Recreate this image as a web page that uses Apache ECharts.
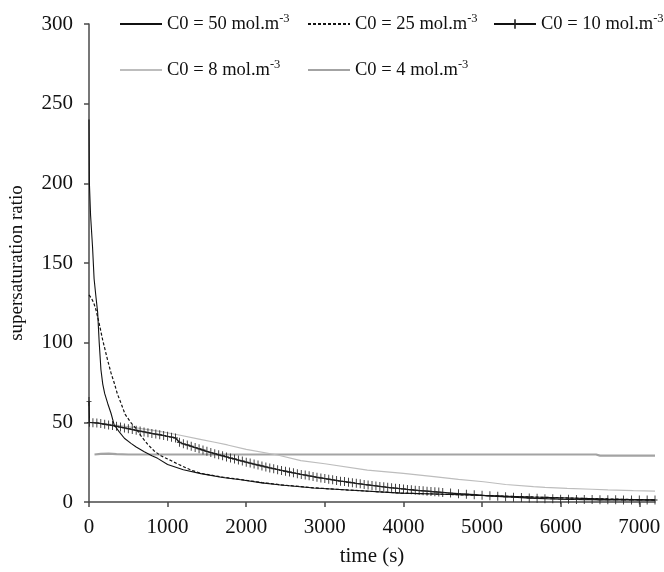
<!DOCTYPE html>
<html>
<head>
<meta charset="utf-8">
<script src="https://cdn.jsdelivr.net/npm/echarts@6/dist/echarts.min.js"></script>
<style>
  html, body { margin: 0; padding: 0; background: #fff; }
  #chart { width: 664px; height: 572px; }
</style>
</head>
<body>
<div id="chart"></div>
<script>
// Supersaturation ratio vs time for several initial concentrations C0

// Axis ticks
var xTicks = [0, 1000, 2000, 3000, 4000, 5000, 6000, 7000];
var yTicks = [0, 50, 100, 150, 200, 250, 300];

// Legend labels (base text + superscript)
var seriesNames = ['C0 = 50 mol.m', 'C0 = 25 mol.m', 'C0 = 10 mol.m', 'C0 = 8 mol.m', 'C0 = 4 mol.m'];
var unitExponent = '-3';

// C0 = 50 mol.m-3
var c50Time = [0, 5, 20, 45, 65, 90, 110, 130, 152, 175, 200, 237, 280, 321, 385, 450, 534, 600, 703, 800, 873, 1000, 1200, 1423, 1700, 1931, 2200, 2440, 2860, 3300, 3964, 4400, 4815, 5200, 5654, 6100, 6600, 7141, 7200];
var c50Value = [240, 200, 180, 160, 140, 128, 119, 100, 83, 74, 68, 62, 55.7, 48.3, 44, 40, 36.8, 34.5, 31.6, 29, 27.4, 23.5, 20.2, 17.8, 15.4, 14, 12, 10.7, 8.8, 7.5, 5.6, 5, 4.4, 3.8, 3.1, 2.5, 1.8, 1.3, 1.2];

// C0 = 25 mol.m-3
var c25Time = [0, 30, 60, 89, 130, 174, 237, 280, 321, 360, 407, 460, 530, 600, 661, 750, 830, 915, 1000, 1042, 1144, 1300, 1423, 1700, 1931, 2200, 2440, 2860, 3300, 3964, 4400, 4815, 5200, 5654, 6100, 6600, 7200];
var c25Value = [130, 128, 125, 120.5, 112, 101.7, 89, 81, 74.7, 68, 62, 55, 50, 46, 41.5, 36, 32, 29, 27, 26, 23.5, 20, 18, 15.6, 14.1, 12.2, 10.8, 8.9, 7.5, 5.6, 5, 4.4, 3.8, 3.1, 2.5, 1.9, 1.3];

// C0 = 10 mol.m-3
var c10Time = [0, 5, 50, 100, 150, 200, 250, 300, 350, 400, 450, 500, 550, 600, 650, 700, 750, 800, 850, 900, 950, 1000, 1050, 1100, 1150, 1200, 1250, 1300, 1350, 1400, 1450, 1500, 1550, 1600, 1650, 1700, 1750, 1800, 1850, 1900, 1950, 2000, 2050, 2100, 2150, 2200, 2250, 2300, 2350, 2400, 2450, 2500, 2550, 2600, 2650, 2700, 2750, 2800, 2850, 2900, 2950, 3000, 3050, 3100, 3150, 3200, 3250, 3300, 3350, 3400, 3450, 3500, 3550, 3600, 3650, 3700, 3750, 3800, 3850, 3900, 3950, 4000, 4050, 4100, 4150, 4200, 4250, 4300, 4350, 4400, 4450, 4500, 4600, 4700, 4800, 4900, 5000, 5100, 5200, 5300, 5400, 5500, 5600, 5700, 5800, 5900, 6000, 6100, 6200, 6300, 6400, 6500, 6600, 6700, 6800, 6900, 7000, 7100, 7200];
var c10Value = [63, 50, 49.8, 49.6, 49.2, 48.8, 48.4, 48, 47.5, 47, 46.5, 46, 45.5, 45, 44.5, 44, 43.5, 43, 42.6, 42.2, 41.7, 41.2, 40.7, 40.2, 37.5, 36.5, 35.8, 35, 34.2, 33.4, 32.6, 31.8, 31, 30.3, 29.6, 29, 28.3, 27.6, 27, 26.3, 25.7, 25, 24.4, 23.8, 23.2, 22.6, 22, 21.4, 20.9, 20.3, 19.8, 19.3, 18.8, 18.3, 17.8, 17.3, 16.9, 16.4, 16, 15.5, 15.1, 14.7, 14.3, 13.9, 13.5, 13.1, 12.8, 12.4, 12.1, 11.7, 11.4, 11, 10.7, 10.4, 10.1, 9.8, 9.5, 9.2, 8.9, 8.7, 8.4, 8.2, 7.9, 7.7, 7.4, 7.2, 7, 6.8, 6.6, 6.4, 6.2, 6, 5.6, 5.2, 4.9, 4.6, 4.2, 3.9, 3.6, 3.3, 3, 2.8, 2.5, 2.3, 2.1, 2, 1.8, 1.7, 1.6, 1.5, 1.5, 1.4, 1.4, 1.4, 1.3, 1.3, 1.3, 1.3, 1.3];

// C0 = 8 mol.m-3
var c8Time = [0, 300, 600, 900, 1130, 1400, 1600, 1762, 2000, 2398, 2694, 3000, 3541, 4000, 4388, 4700, 5020, 5300, 5654, 5800, 6082, 6400, 6600, 6925, 7200];
var c8Value = [50, 48.6, 46.5, 44.3, 42.2, 39.5, 37.5, 35.8, 33, 29.5, 26, 24, 20, 18, 15.9, 14.2, 12.7, 11, 9.6, 9.2, 8.6, 8, 7.6, 7.1, 6.8];

// C0 = 4 mol.m-3
var c4Time = [70, 150, 250, 350, 500, 1500, 3000, 4500, 6450, 6500, 7200];
var c4Value = [29.8, 30.2, 30.4, 30, 29.8, 29.8, 29.8, 29.8, 29.8, 29.1, 29.1];

function pairs(t, v) {
  return t.map(function (x, i) { return [x, v[i]]; });
}

var serif = 'Liberation Serif';
var axisColor = '#4a4a4a';
var plusSymbol = 'path://M-0.1,-1H0.1V-0.1H0.6V0.1H0.1V1H-0.1V0.1H-0.6V-0.1H-0.1Z';

function legendFor(name, left, top, showMarker) {
  return {
    data: [name],
    left: left,
    top: top,
    itemWidth: 42,
    itemHeight: 12,
    itemGap: 0,
    padding: [5, 0, 5, 5],
    selectedMode: false,
    itemStyle: showMarker ? {} : { opacity: 0 },
    formatter: function (n) { return '{b|' + n + '}{s|' + unitExponent + '}'; },
    textStyle: {
      fontFamily: serif,
      color: '#111',
      rich: {
        b: { fontFamily: serif, fontSize: 18.5, color: '#111', lineHeight: 24 },
        s: { fontFamily: serif, fontSize: 12.5, color: '#111', verticalAlign: 'top', lineHeight: 14, padding: [0, 0, 10, 0] }
      }
    }
  };
}

var chart = echarts.init(document.getElementById('chart'), null, { renderer: 'canvas' });

chart.setOption({
  backgroundColor: '#ffffff',
  animation: false,
  grid: { left: 88, right: 9, top: 24, bottom: 70, containLabel: false },
  legend: [
    legendFor(seriesNames[0], 114, 7, false),
    legendFor(seriesNames[1], 302, 7, false),
    legendFor(seriesNames[2], 488, 7, true),
    legendFor(seriesNames[3], 114, 53, false),
    legendFor(seriesNames[4], 302, 53, false)
  ],
  xAxis: {
    type: 'value',
    min: 0,
    max: 7200,
    interval: 1000,
    name: 'time (s)',
    nameLocation: 'middle',
    nameGap: 44,
    nameTextStyle: { fontFamily: serif, fontSize: 21, color: '#111' },
    axisLine: { lineStyle: { color: axisColor, width: 1.5 } },
    axisTick: { show: true, length: 5, inside: false, customValues: xTicks, lineStyle: { color: axisColor, width: 1.5 } },
    axisLabel: {
      customValues: xTicks, fontFamily: serif, fontSize: 21, color: '#111', margin: 15,
      formatter: function (v) { return String(v); }
    },
    splitLine: { show: false }
  },
  yAxis: {
    type: 'value',
    min: 0,
    max: 300,
    interval: 50,
    name: 'supersaturation ratio',
    nameLocation: 'middle',
    nameGap: 62,
    nameTextStyle: { fontFamily: serif, fontSize: 19, color: '#111' },
    axisLine: { show: true, lineStyle: { color: axisColor, width: 1.5 } },
    axisTick: { show: true, length: 5, inside: false, customValues: yTicks, lineStyle: { color: axisColor, width: 1.5 } },
    axisLabel: {
      customValues: yTicks, fontFamily: serif, fontSize: 21, color: '#111', margin: 16,
      formatter: function (v) { return String(v); }
    },
    splitLine: { show: false }
  },
  series: [
    {
      name: seriesNames[4], type: 'line', data: pairs(c4Time, c4Value),
      symbol: 'none', lineStyle: { color: '#a3a3a3', width: 2.2 }, itemStyle: { color: '#a3a3a3' }, z: 1
    },
    {
      name: seriesNames[3], type: 'line', data: pairs(c8Time, c8Value),
      symbol: 'none', lineStyle: { color: '#bdbdbd', width: 1.2 }, itemStyle: { color: '#bdbdbd' }, z: 2
    },
    {
      name: seriesNames[2], type: 'line', data: pairs(c10Time, c10Value),
      symbol: plusSymbol, symbolSize: [5, 9], showSymbol: true, showAllSymbol: true,
      lineStyle: { color: '#111', width: 1.3 }, itemStyle: { color: '#222' }, z: 3
    },
    {
      name: seriesNames[1], type: 'line', data: pairs(c25Time, c25Value),
      symbol: 'none', lineStyle: { color: '#111', width: 1.2, type: [3, 2] }, itemStyle: { color: '#111' }, z: 4
    },
    {
      name: seriesNames[0], type: 'line', data: pairs(c50Time, c50Value),
      symbol: 'none', lineStyle: { color: '#111', width: 1.1 }, itemStyle: { color: '#111' }, z: 5
    }
  ]
});
</script>
</body>
</html>
